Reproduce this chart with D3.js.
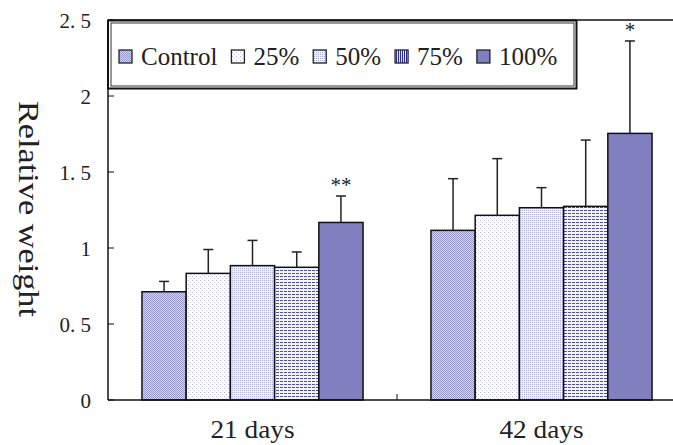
<!DOCTYPE html>
<html><head><meta charset="utf-8">
<script src="https://cdn.jsdelivr.net/npm/d3@7"></script>
<style>body{margin:0;background:#fff}svg{display:block}</style>
</head><body>
<script>
// ---- data ----
const categories = ["21 days", "42 days"];
const series = ["Control", "25%", "50%", "75%", "100%"];
const controlVals = [0.712, 1.116];
const p25Vals = [0.833, 1.215];
const p50Vals = [0.884, 1.265];
const p75Vals = [0.873, 1.274];
const p100Vals = [1.168, 1.754];
const controlErr = [0.068, 0.340];
const p25Err = [0.157, 0.373];
const p50Err = [0.166, 0.132];
const p75Err = [0.101, 0.436];
const p100Err = [0.174, 0.608];
const p100Sig = ["**", "*"];
const yTicks = [0, 0.5, 1, 1.5, 2, 2.5];
const yTickLabels = ["0", "0. 5", "1", "1. 5", "2", "2. 5"];
const yLabel = "Relative weight";

const valuesBySeries = [controlVals, p25Vals, p50Vals, p75Vals, p100Vals];
const errBySeries = [controlErr, p25Err, p50Err, p75Err, p100Err];
const sigBySeries = [null, null, null, null, p100Sig];

const W = 673, H = 445;
const font = "'Liberation Serif', 'Times New Roman', serif";
const svg = d3.select("body").append("svg").attr("width", W).attr("height", H);

// patterns
const defs = svg.append("defs");
function pat(id, w, h, bg, cells) {
  const p = defs.append("pattern").attr("id", id).attr("patternUnits", "userSpaceOnUse")
    .attr("width", w).attr("height", h);
  p.append("rect").attr("width", w).attr("height", h).attr("fill", bg);
  cells.forEach(c => p.append("rect").attr("x", c[0]).attr("y", c[1]).attr("width", c[2]).attr("height", c[3]).attr("fill", c[4]));
}
pat("pCtrl", 2, 2, "#d2d2ec", [[0,0,1,1,"#9a9ad0"],[1,1,1,1,"#9a9ad0"]]);
pat("p25", 4, 4, "#ffffff", [[0,0,1,1,"#b4b4e0"],[2,2,1,1,"#c8c8ea"]]);
pat("p50", 2, 2, "#f2f2fa", [[0,0,1,1,"#b0b0de"]]);
pat("p75", 4, 3, "#f4f4fb", [[0,0,3,1,"#4e4eb0"]]);
pat("p75leg", 2, 2, "#e8e8f6", [[0,0,1,2,"#2c2c98"]]);
const fills = ["url(#pCtrl)", "url(#p25)", "url(#p50)", "url(#p75)", "#8080c0"];
const legFills = ["url(#pCtrl)", "url(#p25)", "url(#p50)", "url(#p75leg)", "#8080c0"];

// scales
const plotL = 108, plotR = 686, plotT = 20, plotB = 400;
const y = d3.scaleLinear().domain([0, 2.5]).range([plotB, plotT]);
const x0 = d3.scaleBand().domain(categories).range([plotL, plotR]).paddingInner(0.235).paddingOuter(0.1175);
const x1 = d3.scaleBand().domain(series).range([0, x0.bandwidth()]).padding(0);

// bars
const g = svg.append("g");
categories.forEach((cat, ci) => {
  series.forEach((s, si) => {
    const v = valuesBySeries[si][ci];
    const bx = x0(cat) + x1(s);
    const cx = bx + x1.bandwidth() / 2;
    const top = y(v + errBySeries[si][ci]);
    g.append("line").attr("x1", cx).attr("x2", cx).attr("y1", y(v)).attr("y2", top)
      .attr("stroke", "#222").attr("stroke-width", 1.5);
    g.append("line").attr("x1", cx - 5).attr("x2", cx + 5).attr("y1", top).attr("y2", top)
      .attr("stroke", "#222").attr("stroke-width", 1.5);
    g.append("rect").attr("x", bx).attr("y", y(v)).attr("width", x1.bandwidth()).attr("height", y(0) - y(v))
      .attr("fill", fills[si]).attr("stroke", "#111").attr("stroke-width", 1.5);
    const sig = sigBySeries[si];
    if (sig && sig[ci]) {
      g.append("text").attr("x", cx).attr("y", top - 4).attr("text-anchor", "middle")
        .attr("font-family", font).attr("font-size", 21).attr("fill", "#222").text(sig[ci]);
    }
  });
});

// frame
svg.append("line").attr("x1", plotL).attr("x2", plotL).attr("y1", plotT).attr("y2", plotB).attr("stroke", "#111").attr("stroke-width", 1.5);
svg.append("line").attr("x1", plotL).attr("x2", plotR).attr("y1", plotT).attr("y2", plotT).attr("stroke", "#111").attr("stroke-width", 1.5);
svg.append("line").attr("x1", plotL).attr("x2", plotR).attr("y1", plotB).attr("y2", plotB).attr("stroke", "#111").attr("stroke-width", 1.5);

// y ticks (inward)
yTicks.forEach((t, i) => {
  svg.append("line").attr("x1", plotL).attr("x2", plotL + 6).attr("y1", y(t)).attr("y2", y(t)).attr("stroke", "#111").attr("stroke-width", 1);
  svg.append("text").attr("x", 91).attr("y", y(t)).attr("dy", "0.36em").attr("text-anchor", "end")
    .attr("font-family", font).attr("font-size", 21).attr("fill", "#222").text(yTickLabels[i]);
});
// x category boundary tick (upward)
categories.slice(1).forEach(cat => {
  const bx = x0(cat) - x0.step() * x0.paddingInner() / 2;
  svg.append("line").attr("x1", bx).attr("x2", bx).attr("y1", plotB).attr("y2", plotB - 6).attr("stroke", "#111").attr("stroke-width", 1);
});
// x labels
categories.forEach(cat => {
  svg.append("text").attr("x", x0(cat) + x0.bandwidth() / 2).attr("y", 438).attr("text-anchor", "middle")
    .attr("font-family", font).attr("font-size", 25).attr("textLength", 84).attr("lengthAdjust", "spacingAndGlyphs")
    .attr("fill", "#222").text(cat);
});
// y label
svg.append("text").attr("transform", "translate(19,209) rotate(90)").attr("text-anchor", "middle")
  .attr("font-family", font).attr("font-size", 29).attr("textLength", 216).attr("lengthAdjust", "spacingAndGlyphs")
  .attr("fill", "#222").text(yLabel);

// legend
const lg = svg.append("g");
lg.append("rect").attr("x", 108).attr("y", 20.5).attr("width", 468.5).attr("height", 68)
  .attr("fill", "#fff").attr("stroke", "#111").attr("stroke-width", 2);
lg.append("rect").attr("x", 111).attr("y", 23).attr("width", 463).attr("height", 63)
  .attr("fill", "none").attr("stroke", "#333").attr("stroke-width", 1);
let lx = 119;
series.forEach((s, si) => {
  lg.append("rect").attr("x", lx).attr("y", 50).attr("width", 13).attr("height", 13)
    .attr("fill", legFills[si]).attr("stroke", "#222").attr("stroke-width", 1.3);
  const t = lg.append("text").attr("x", lx + 22).attr("y", 65).attr("font-family", font)
    .attr("font-size", 25).attr("fill", "#222").text(s);
  lx = lx + 22 + t.node().getComputedTextLength() + 14;
});
</script>
</body></html>
